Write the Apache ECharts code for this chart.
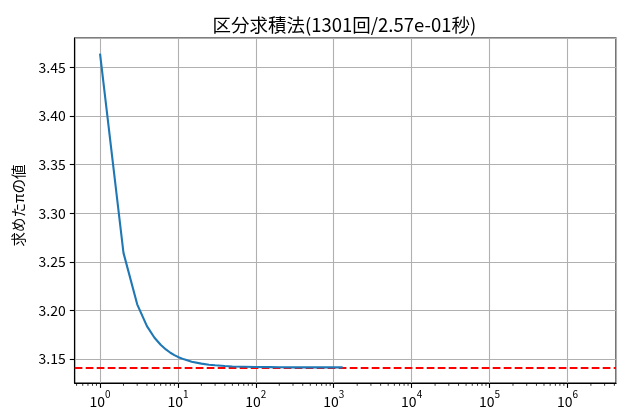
<!DOCTYPE html>
<html><head><meta charset="utf-8">
<script src="https://cdn.jsdelivr.net/npm/echarts@6/dist/echarts.min.js"></script>
<style>html,body{margin:0;padding:0;background:#fff}#c{width:627px;height:415px}</style>
</head><body><div id="c"></div>
<script>
// Data
const nValues = [1, 2, 3, 4, 5, 6, 7, 8, 9, 10, 12, 15, 20, 25, 30, 40, 50, 70, 100, 150, 200, 300, 500, 700, 1000, 1301];
const piValues = [3.4641, 3.2593, 3.2064, 3.1839, 3.1720, 3.1648, 3.1600, 3.1566, 3.1542, 3.1523, 3.1498, 3.1474, 3.1454, 3.1443, 3.1437, 3.1429, 3.1425, 3.1422, 3.1419, 3.1418, 3.1417, 3.1416, 3.1416, 3.1416, 3.1416, 3.1416];
const piRef = 3.14159265;
const titleText = '区分求積法(1301回/2.57e-01秒)';
const yName = '求めたπの値';
const xMin = 0.473, xMax = 4.2e6;
const yMin = 3.1255, yMax = 3.4802;
const minorMantissas = [2, 3, 4, 5, 6, 7, 8, 9];
const minorDecades = [-1, 0, 1, 2, 3, 4, 5, 6];

const minorTicks = [];
minorDecades.forEach(d => minorMantissas.forEach(m => {
  const v = m * Math.pow(10, d);
  if (v >= xMin && v <= xMax) minorTicks.push([v, yMin]);
}));

const FONT = '"Noto Sans CJK JP", "Noto Sans", sans-serif';
const gridL = 74.7, gridR = 616, gridT = 38, gridB = 383;

const chart = echarts.init(document.getElementById('c'), null, {renderer: 'canvas'});
chart.setOption({
  animation: false,
  backgroundColor: '#fff',
  graphic: [{
    type: 'text', x: (gridL + gridR) / 2 - 1, y: 24.5,
    style: {text: titleText, font: '18.5px ' + FONT, fill: '#000', textAlign: 'center', textVerticalAlign: 'middle'}
  }],
  grid: {left: gridL, right: 627 - gridR, top: gridT, bottom: 415 - gridB, show: true,
         borderColor: '#000', borderWidth: 1.1, backgroundColor: 'transparent'},
  xAxis: {
    type: 'log', logBase: 10, min: xMin, max: xMax,
    axisLine: {show: true, lineStyle: {color: '#000', width: 1.1}},
    axisTick: {show: true, inside: false, length: 4.9, lineStyle: {color: '#000', width: 1.1}},
    splitLine: {show: true, lineStyle: {color: '#b0b0b0', width: 1.1}},
    axisLabel: {
      margin: 6, color: '#000', fontFamily: FONT,
      showMinLabel: false, showMaxLabel: false,
      formatter: function (v) {
        const k = Math.log10(v);
        if (Math.abs(k - Math.round(k)) > 1e-6) return '';
        return '{b|10}{s|' + Math.round(k) + '}';
      },
      rich: {
        b: {fontSize: 14, fontFamily: FONT, color: '#000', lineHeight: 20, verticalAlign: 'bottom'},
        s: {fontSize: 10, fontFamily: FONT, color: '#000', lineHeight: 20, verticalAlign: 'top'}
      }
    }
  },
  yAxis: {
    type: 'value', min: yMin, max: yMax, splitNumber: 7,
    name: yName, nameLocation: 'middle', nameGap: 49, nameRotate: 90,
    nameTextStyle: {fontSize: 14.5, fontFamily: FONT, color: '#000', padding: [0, 0, 0, 10]},
    axisLine: {show: true, lineStyle: {color: '#000', width: 1.1}},
    axisTick: {show: true, inside: false, length: 4.9, lineStyle: {color: '#000', width: 1.1}},
    splitLine: {show: true, lineStyle: {color: '#b0b0b0', width: 1.1}},
    axisLabel: {
      margin: 9, fontSize: 14, color: '#000', fontFamily: FONT,
      showMinLabel: false, showMaxLabel: false,
      formatter: v => v.toFixed(2)
    }
  },
  series: [
    {
      type: 'line', z: 3, showSymbol: false, symbol: 'none',
      data: nValues.map((n, i) => [n, piValues[i]]),
      lineStyle: {color: '#1f77b4', width: 2.1},
      markLine: {
        symbol: 'none', silent: true, label: {show: false}, z: 2, precision: 8,
        lineStyle: {color: '#ff0000', type: [7.7, 3.3], width: 2.1},
        data: [{yAxis: piRef}]
      }
    },
    {
      type: 'custom', z: 4, silent: true, clip: false,
      data: minorTicks,
      renderItem: function (params, api) {
        const p = api.coord([api.value(0), api.value(1)]);
        return {type: 'line', shape: {x1: p[0], y1: p[1], x2: p[0], y2: p[1] + 2.8},
                style: {stroke: '#000', lineWidth: 0.8}};
      }
    }
  ]
});
</script></body></html>
